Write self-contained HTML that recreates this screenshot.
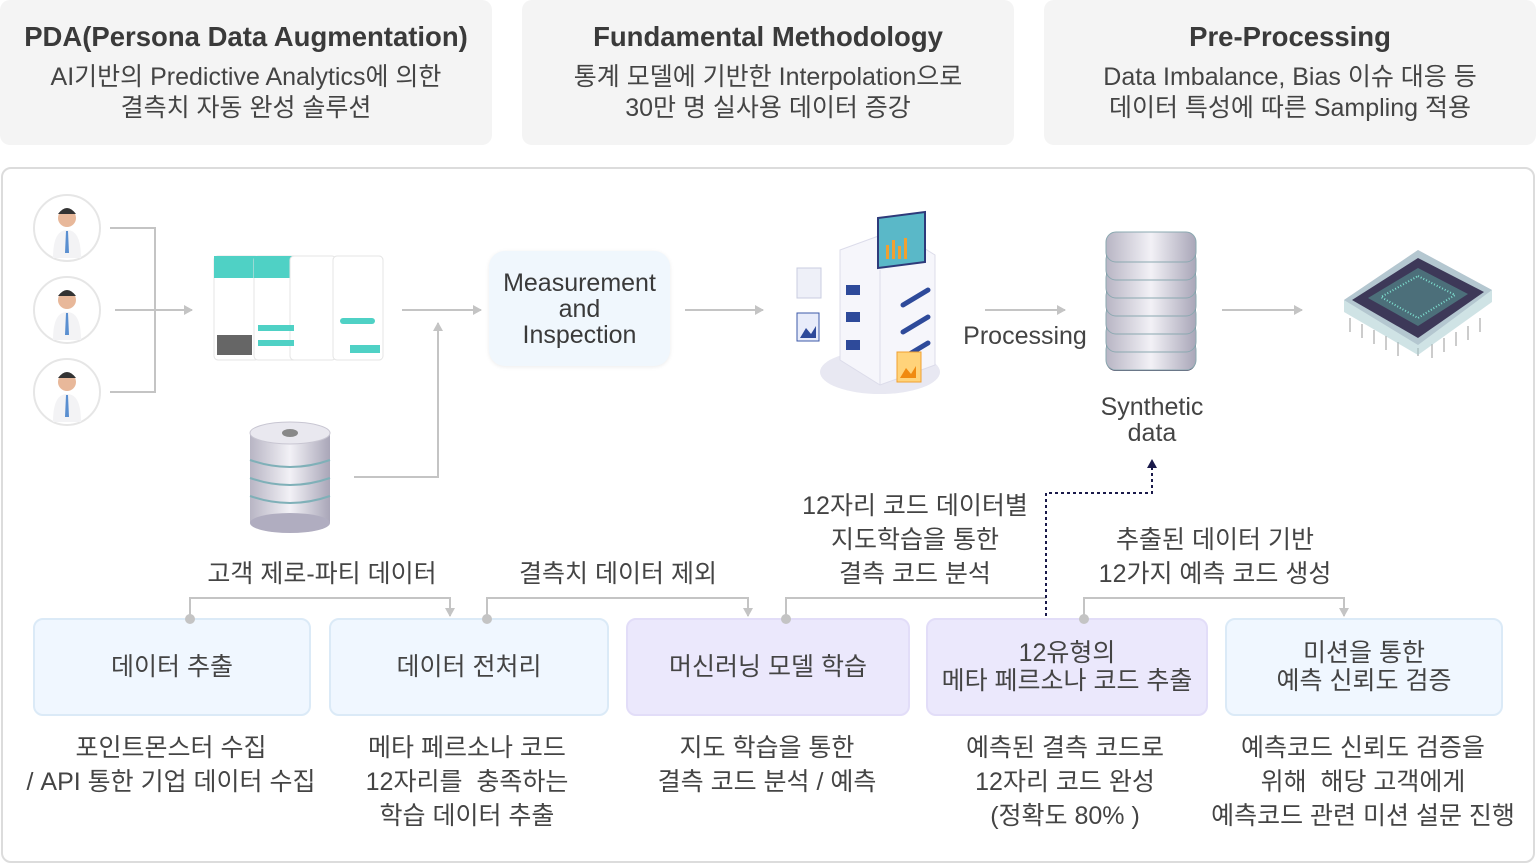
<!DOCTYPE html>
<html><head><meta charset="utf-8"><style>
*{margin:0;padding:0;box-sizing:border-box}
body{width:1536px;height:864px;background:#fff;position:relative;overflow:hidden;font-family:"Liberation Sans","Noto Sans CJK KR",sans-serif;color:#444}
.tp{position:absolute;top:0;height:145px;width:492px;background:#f4f4f4;border-radius:10px;text-align:center}
.tp h1{font-size:27.5px;font-weight:bold;color:#3a3a3a;margin-top:21px;line-height:32px}
.tp p{font-size:25px;line-height:31px;margin-top:9px;color:#444}
.main{position:absolute;left:1px;top:167px;width:1534px;height:696px;border:2px solid #dcdcdc;border-radius:10px}
.t{position:absolute;text-align:center;font-size:25px;line-height:34px;color:#444;white-space:nowrap;transform:translateX(-50%)}
.bx{position:absolute;top:618px;height:98px;border-radius:10px;display:flex;align-items:center;justify-content:center;text-align:center;font-size:25px;line-height:28px;color:#444}
.b{background:#f0f7ff;border:2px solid #dbeaf7}
.v{background:#ebe8fc;border:2px solid #e2ddf8}
svg{z-index:2}
</style></head><body>
<div class="tp" style="left:0"><h1>PDA(Persona Data Augmentation)</h1><p>AI기반의 Predictive Analytics에 의한<br>결측치 자동 완성 솔루션</p></div>
<div class="tp" style="left:522px"><h1>Fundamental Methodology</h1><p>통계 모델에 기반한 Interpolation으로<br>30만 명 실사용 데이터 증강</p></div>
<div class="tp" style="left:1044px"><h1>Pre-Processing</h1><p>Data Imbalance, Bias 이슈 대응 등<br>데이터 특성에 따른 Sampling 적용</p></div>
<div class="main"></div>

<div class="bx b" style="left:33px;width:278px">데이터 추출</div>
<div class="bx b" style="left:329px;width:280px">데이터 전처리</div>
<div class="bx v" style="left:626px;width:284px">머신러닝 모델 학습</div>
<div class="bx v" style="left:926px;width:282px">12유형의<br>메타 페르소나 코드 추출</div>
<div class="bx b" style="left:1225px;width:278px">미션을 통한<br>예측 신뢰도 검증</div>

<svg style="position:absolute;left:0;top:0" width="1536" height="864">
<defs>
<marker id="g" markerWidth="10" markerHeight="10" refX="8" refY="5" orient="auto" markerUnits="userSpaceOnUse"><path d="M0,0L9,5L0,10z" fill="#c4c4c4"/></marker>
<marker id="n" markerWidth="10" markerHeight="10" refX="8" refY="5" orient="auto" markerUnits="userSpaceOnUse"><path d="M0,0L9,5L0,10z" fill="#1a1a4a"/></marker>
<linearGradient id="cy" x1="0" x2="1"><stop offset="0" stop-color="#b8b5c4"/><stop offset=".5" stop-color="#f2f1f6"/><stop offset="1" stop-color="#a9a6b8"/></linearGradient>
</defs>
<g stroke="#c4c4c4" stroke-width="2" fill="none">
<path d="M110,228H155V392H110"/>
<path d="M115,310H192" marker-end="url(#g)"/>
<path d="M402,310H481" marker-end="url(#g)"/>
<path d="M354,477H438V323" marker-end="url(#g)"/>
<path d="M685,310H763" marker-end="url(#g)"/>
<path d="M985,310H1065" marker-end="url(#g)"/>
<path d="M1222,310H1302" marker-end="url(#g)"/>
<path d="M190,619V598H450V616" marker-end="url(#g)"/>
<path d="M487,619V598H748V616" marker-end="url(#g)"/>
<path d="M786,619V598H1046"/>
<path d="M1084,619V598H1344V616" marker-end="url(#g)"/>
</g>
<g fill="#c4c4c4"><circle cx="190" cy="619" r="5"/><circle cx="487" cy="619" r="5"/><circle cx="786" cy="619" r="5"/><circle cx="1084" cy="619" r="5"/></g>
<path d="M1046,616V493H1152V460" stroke="#1a1a4a" stroke-width="2" stroke-dasharray="3,3" fill="none" marker-end="url(#n)"/>
<g>
<g transform="translate(67,228)"><circle r="33" fill="#fff" stroke="#e6e6e6" stroke-width="2"/><circle cy="-10" r="9" fill="#e8b89a"/><path d="M-9,-14Q0,-26 9,-14Z" fill="#333"/><path d="M-14,30Q-14,2 0,2Q14,2 14,30Z" fill="#f3f3f5"/><path d="M-1,3h2l1,22h-4z" fill="#5a8fd0"/></g>
<g transform="translate(67,310)"><circle r="33" fill="#fff" stroke="#e6e6e6" stroke-width="2"/><circle cy="-10" r="9" fill="#e8b89a"/><path d="M-9,-14Q0,-26 9,-14Z" fill="#333"/><path d="M-14,30Q-14,2 0,2Q14,2 14,30Z" fill="#f3f3f5"/><path d="M-1,3h2l1,22h-4z" fill="#5a8fd0"/></g>
<g transform="translate(67,392)"><circle r="33" fill="#fff" stroke="#e6e6e6" stroke-width="2"/><circle cy="-10" r="9" fill="#e8b89a"/><path d="M-9,-14Q0,-26 9,-14Z" fill="#333"/><path d="M-14,30Q-14,2 0,2Q14,2 14,30Z" fill="#f3f3f5"/><path d="M-1,3h2l1,22h-4z" fill="#5a8fd0"/></g>
</g>
<g>
<rect x="214" y="256" width="45" height="104" rx="4" fill="#fff" stroke="#e4e4e4"/><rect x="214" y="256" width="45" height="22" fill="#4fd1c5"/>
<rect x="254" y="256" width="45" height="104" rx="4" fill="#fff" stroke="#e4e4e4"/><rect x="254" y="256" width="45" height="22" fill="#4fd1c5"/>
<rect x="217" y="335" width="35" height="20" fill="#666"/>
<rect x="290" y="256" width="46" height="104" rx="4" fill="#fff" stroke="#e4e4e4"/>
<rect x="333" y="256" width="50" height="104" rx="4" fill="#fff" stroke="#e4e4e4"/>
<rect x="340" y="318" width="35" height="6" rx="3" fill="#4fd1c5"/><rect x="350" y="345" width="30" height="8" fill="#4fd1c5"/>
<rect x="258" y="325" width="36" height="6" fill="#4fd1c5"/><rect x="258" y="340" width="36" height="6" fill="#4fd1c5"/>
</g>
<g>
<rect x="250" y="433" width="80" height="90" fill="url(#cy)"/>
<ellipse cx="290" cy="523" rx="40" ry="10" fill="#b0adc0"/>
<g stroke="#7fb0b8" stroke-width="2" fill="none"><path d="M250,460q40,14 80,0"/><path d="M250,478q40,14 80,0"/><path d="M250,496q40,14 80,0"/></g>
<ellipse cx="290" cy="433" rx="40" ry="11" fill="#e9e8ef" stroke="#c8c6d2"/>
<ellipse cx="290" cy="433" rx="8" ry="4" fill="#888"/>
</g>
<g>
<ellipse cx="880" cy="372" rx="60" ry="22" fill="#e8e8f2"/>
<path d="M840,250L895,230L935,255V365L880,385L840,360Z" fill="#f6f6fb" stroke="#dcdcea"/>
<path d="M880,270V385" stroke="#dcdcea"/>
<g fill="#2e4a9a"><rect x="846" y="285" width="14" height="10"/><rect x="846" y="312" width="14" height="10"/><rect x="846" y="340" width="14" height="10"/></g>
<g stroke="#2e4a9a" stroke-width="5" stroke-linecap="round"><path d="M903,305L928,290"/><path d="M903,332L928,317"/><path d="M903,358L928,343"/></g>
<path d="M878,218L925,212V262L878,268Z" fill="#5ab8c8" stroke="#2e3a7a" stroke-width="2"/>
<g fill="#f0a030"><rect x="886" y="245" width="3" height="14"/><rect x="892" y="240" width="3" height="19"/><rect x="898" y="246" width="3" height="13"/><rect x="904" y="238" width="3" height="21"/></g>
<rect x="797" y="268" width="24" height="30" fill="#eef0f8" stroke="#c9cde0"/>
<rect x="797" y="313" width="22" height="28" fill="#e8ecfa" stroke="#3c5aa8"/><path d="M800,338l6-10 5,6 5-8v12z" fill="#2e4a9a"/>
<rect x="897" y="352" width="24" height="30" fill="#ffd37a" stroke="#f0a030"/><path d="M900,378l6-10 5,6 5-8v12z" fill="#f08a10"/>
</g>
<g>
<rect x="1106" y="243" width="90" height="128" rx="10" fill="#4a4660"/>
<g fill="url(#cy)" stroke="#8aa8b0">
<rect x="1106" y="340" width="90" height="30" rx="10"/>
<rect x="1106" y="322" width="90" height="30" rx="10"/>
<rect x="1106" y="304" width="90" height="30" rx="10"/>
<rect x="1106" y="286" width="90" height="30" rx="10"/>
<rect x="1106" y="268" width="90" height="30" rx="10"/>
<rect x="1106" y="250" width="90" height="30" rx="10"/>
<rect x="1106" y="232" width="90" height="30" rx="10"/>
</g>
</g>
<g>
<g stroke="#bbb" stroke-width="1.5"><path d="M1350,318v14M1362,324v14M1374,330v14M1386,336v14M1398,342v14M1480,318v14M1468,326v14M1456,332v14M1444,338v14M1432,344v14M1418,348v8"/></g>
<path d="M1418,250L1492,290L1418,345L1344,300Z" fill="#c8c6d4"/>
<path d="M1418,250L1492,290L1492,302L1418,355L1344,312L1344,300Z" fill="#9fc8cc" opacity=".5"/>
<path d="M1418,258L1484,292L1418,338L1352,300Z" fill="#3d3858"/>
<path d="M1418,268L1468,294L1418,326L1368,298Z" fill="#4c6f7a"/>
<path d="M1418,276L1455,295L1418,318L1381,297Z" fill="none" stroke="#7ee0d0" stroke-dasharray="1,2" stroke-width="2"/>
</g>
</svg>

<div style="position:absolute;left:489px;top:251px;width:181px;height:115px;background:#f0f7fd;border-radius:16px;box-shadow:0 1px 4px rgba(0,0,0,.08);display:flex;align-items:center;justify-content:center;text-align:center;font-size:25px;line-height:26px;color:#3a3a3a">Measurement<br>and<br>Inspection</div>
<div class="t" style="left:1025px;top:319px;font-size:25px">Processing</div>
<div class="t" style="left:1152px;top:394px;font-size:25px;line-height:26px">Synthetic<br>data</div>

<div class="t" style="left:322px;top:557px">고객 제로-파티 데이터</div>
<div class="t" style="left:618px;top:557px">결측치 데이터 제외</div>
<div class="t" style="left:915px;top:489px">12자리 코드 데이터별<br>지도학습을 통한<br>결측 코드 분석</div>
<div class="t" style="left:1215px;top:523px">추출된 데이터 기반<br>12가지 예측 코드 생성</div>

<div class="t" style="left:171px;top:731px">포인트몬스터 수집<br>/ API 통한 기업 데이터 수집</div>
<div class="t" style="left:467px;top:731px">메타 페르소나 코드<br>12자리를&nbsp; 충족하는<br>학습 데이터 추출</div>
<div class="t" style="left:767px;top:731px">지도 학습을 통한<br>결측 코드 분석 / 예측</div>
<div class="t" style="left:1065px;top:731px">예측된 결측 코드로<br>12자리 코드 완성<br>(정확도 80% )</div>
<div class="t" style="left:1363px;top:731px">예측코드 신뢰도 검증을<br>위해&nbsp; 해당 고객에게<br>예측코드 관련 미션 설문 진행</div>
</body></html>
